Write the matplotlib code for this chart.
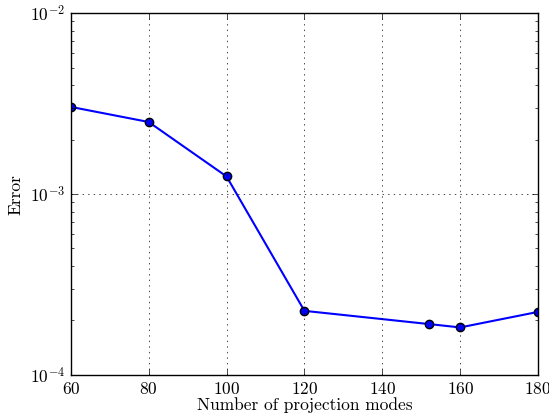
import matplotlib
matplotlib.use("Agg")
import matplotlib.pyplot as plt

plt.style.use("classic")
plt.rcParams["font.family"] = "cmr10"
plt.rcParams["mathtext.fontset"] = "cm"
plt.rcParams["axes.formatter.use_mathtext"] = True
plt.rcParams["axes.unicode_minus"] = False

modes = [60, 80, 100, 120, 152, 160, 180]
error = [3.03e-3, 2.50e-3, 1.25e-3, 2.26e-4, 1.91e-4, 1.83e-4, 2.23e-4]

fig = plt.figure(figsize=(5.49, 4.14), dpi=100, facecolor="white")
ax = fig.add_axes([0.129, 0.092, 0.851, 0.874])
ax.semilogy(modes, error, "b-o", markersize=6, markeredgecolor="k",
            markeredgewidth=1.0, linewidth=1.5)
ax.set_xlim(60, 180)
ax.set_ylim(1e-4, 1e-2)
ax.grid(True)
ax.set_xlabel("Number of projection modes", fontsize=12.5, labelpad=0)
ax.set_ylabel("Error", fontsize=12.5)
ax.tick_params(labelsize=12.5)
fig.savefig("out.png", dpi=100, facecolor="white")
